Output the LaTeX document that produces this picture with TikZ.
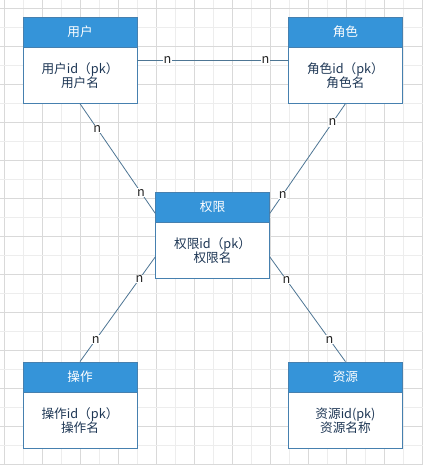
\documentclass[tikz,border=0pt]{standalone}
\usepackage{fontspec}
\setmainfont{Noto Sans CJK SC}
\usepackage{xcolor}
\usepackage{tikz}
\usetikzlibrary{positioning,calc}
\definecolor{hdrblue}{RGB}{53,148,217}
\definecolor{boxline}{RGB}{70,128,175}
\definecolor{edgeline}{RGB}{78,118,148}
\definecolor{bodytext}{RGB}{30,55,85}

\begin{document}
\begin{tikzpicture}[x=0.75pt,y=-0.75pt,on grid,font=\fontsize{9.5pt}{10.5pt}\selectfont]
        \tikzstyle{entity}=[draw=boxline,fill=white,text=bodytext,minimum width=85.5pt,minimum height=42pt,align=center,inner sep=0pt]
        \tikzstyle{hdr}=[draw=boxline,fill=hdrblue,text=white,minimum width=85.5pt,minimum height=22.5pt,inner sep=0pt]
        \tikzstyle{ln}=[draw=edgeline,line width=0.6pt]
        \tikzstyle{card}=[fill=white,inner sep=0.5pt,anchor=center,text=black!85]
        \tikzstyle{minor}=[draw=black!7,line width=0.5pt]
        \tikzstyle{major}=[draw=black!15,line width=0.5pt]
        \useasboundingbox[fill=white] (0,0) rectangle (423,465);
        \foreach \k in {1,3,...,21} \draw[minor] ({4.5+19*\k},0) -- ({4.5+19*\k},465);
        \foreach \k in {0,2,...,22} \draw[major] ({4.5+19*\k},0) -- ({4.5+19*\k},465);
        \foreach \k in {1,3,...,23} \draw[minor] (0,{8.3+19*\k}) -- (423,{8.3+19*\k});
        \foreach \k in {0,2,...,24} \draw[major] (0,{8.3+19*\k}) -- (423,{8.3+19*\k});
        \node[entity,label={[hdr,name=yhT]above:用户}] (yh) at (80,75.4) {用户id（pk）\\用户名};
        \node[entity,label={[hdr,name=jsT]above:角色}] (js) [right=199.1pt of yh] {角色id（pk）\\角色名};
        \node[entity,label={[hdr,name=qxT]above:权限}] (qx) [below right=131.25pt and 99.4pt of yh] {权限id（pk）\\权限名};
        \node[entity,label={[hdr,name=czT]above:操作}] (cz) [below=258.75pt of yh] {操作id（pk）\\操作名};
        \node[entity,label={[hdr,name=zyT]above:资源}] (zy) [below=258.75pt of js] {资源id(pk)\\资源名称};
        \coordinate (yhE) at ($(yhT.north east)!.5!(yh.south east)$);
        \coordinate (jsW) at ($(jsT.north west)!.5!(js.south west)$);
        \coordinate (qxNW) at ($(qxT.north west)!.25!(qx.south west)$);
        \coordinate (qxSW) at ($(qxT.north west)!.75!(qx.south west)$);
        \coordinate (qxNE) at ($(qxT.north east)!.25!(qx.south east)$);
        \coordinate (qxSE) at ($(qxT.north east)!.75!(qx.south east)$);
        \path[ln]
        (yhE) edge node[card,pos=.2]{n} node[card,pos=.85]{n} (jsW)
        (yh.south) edge node[card,pos=.23]{n} node[card,pos=.81]{n} (qxNW)
        (js.south) edge node[card,pos=.17]{n} node[card,pos=.83]{n} (qxNE)
        (qxSW) edge node[card,pos=.21]{n} node[card,pos=.79]{n} (czT.north)
        (qxSE) edge node[card,pos=.22]{n} node[card,pos=.79]{n} (zyT.north);
    \end{tikzpicture}
\end{document}
